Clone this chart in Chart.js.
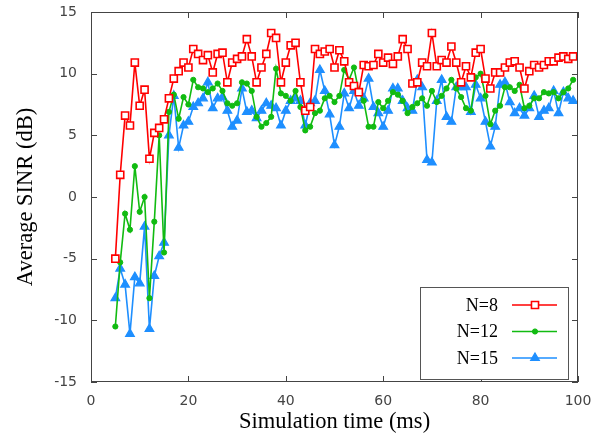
<!DOCTYPE html>
<html>
<head>
<meta charset="utf-8">
<script src="https://cdn.jsdelivr.net/npm/chart.js@4.4.1/dist/chart.umd.min.js"></script>
<style>
  html, body { margin: 0; padding: 0; background: #fff; }
</style>
</head>
<body>
<canvas id="sinrChart" width="609" height="439"></canvas>
<script>
// simulation time (ms), one sample per ms
const timeMs = [5, 6, 7, 8, 9, 10, 11, 12, 13, 14, 15, 16, 17, 18, 19, 20, 21, 22, 23, 24,
  25, 26, 27, 28, 29, 30, 31, 32, 33, 34, 35, 36, 37, 38, 39, 40, 41, 42, 43, 44,
  45, 46, 47, 48, 49, 50, 51, 52, 53, 54, 55, 56, 57, 58, 59, 60, 61, 62, 63, 64,
  65, 66, 67, 68, 69, 70, 71, 72, 73, 74, 75, 76, 77, 78, 79, 80, 81, 82, 83, 84,
  85, 86, 87, 88, 89, 90, 91, 92, 93, 94, 95, 96, 97, 98, 99];

const sinrN8 = [-5.0, 1.8, 6.6, 5.8, 10.9, 7.4, 8.7, 3.1, 5.2, 5.6, 6.3, 8.0, 9.6, 10.2, 10.9, 10.5, 12.0, 11.6, 11.1, 11.5,
  10.1, 11.6, 11.7, 9.3, 10.9, 11.2, 11.4, 12.8, 11.4, 9.3, 10.5, 11.6, 13.3, 12.9, 9.3, 10.9, 12.3, 12.5, 9.3, 7.0,
  7.3, 12.0, 11.6, 11.8, 12.0, 10.5, 11.9, 11.0, 9.3, 9.0, 8.5, 10.7, 10.6, 10.7, 11.6, 10.9, 11.3, 10.8, 11.4, 12.8,
  12.0, 9.2, 9.3, 10.9, 10.6, 13.3, 10.6, 11.1, 10.9, 12.2, 10.9, 9.3, 10.6, 9.7, 11.7, 12.0, 9.6, 8.8, 10.1, 10.1,
  10.5, 10.9, 11.0, 10.5, 8.8, 10.2, 10.7, 10.5, 10.7, 11.0, 11.0, 11.3, 11.4, 11.2, 11.4];

const sinrN12 = [-10.5, -5.3, -1.35, -2.65, 2.5, -1.2, 0.0, -8.2, -2.0, 5.0, -4.5, 6.9, 8.3, 6.35, 8.1, 7.5, 9.5, 8.9, 8.8, 8.5,
  8.8, 9.2, 8.6, 7.6, 7.4, 7.6, 9.3, 9.2, 8.6, 6.5, 5.7, 6.0, 6.5, 10.4, 8.4, 8.2, 7.8, 8.6, 7.3, 5.4,
  5.7, 6.8, 7.0, 8.0, 8.2, 7.7, 8.2, 10.3, 9.5, 10.5, 8.5, 7.8, 5.7, 5.7, 7.7, 7.2, 7.8, 8.5, 8.3, 7.8,
  6.8, 7.3, 7.6, 8.0, 7.4, 8.6, 7.7, 8.2, 8.8, 9.5, 8.8, 8.1, 7.2, 7.0, 9.7, 10.0, 8.2, 5.9, 7.0, 7.4,
  8.9, 8.9, 8.6, 9.1, 7.2, 7.4, 8.0, 8.0, 8.5, 8.4, 8.5, 8.0, 8.5, 8.8, 9.5];

const sinrN15 = [-8.2, -5.8, -7.1, -11.1, -6.5, -7.0, -2.4, -10.7, -6.4, -4.8, -3.7, 5.0, 8.2, 4.0, 5.8, 6.1, 7.3, 7.6, 8.0, 9.3,
  7.2, 8.0, 8.1, 7.0, 5.7, 6.2, 8.8, 6.9, 7.0, 6.4, 7.0, 7.6, 7.4, 7.2, 5.8, 7.0, 7.8, 8.0, 7.8, 5.8,
  7.6, 7.8, 10.3, 8.6, 6.7, 4.2, 5.7, 8.4, 7.2, 8.6, 7.4, 8.0, 9.6, 7.3, 6.8, 5.7, 7.0, 8.8, 8.8, 7.8,
  7.2, 7.0, 9.5, 8.9, 3.0, 2.8, 7.8, 9.5, 6.5, 6.1, 8.9, 8.9, 8.9, 6.9, 9.1, 8.0, 6.1, 4.1, 5.7, 9.1,
  9.3, 7.7, 6.8, 7.2, 6.6, 7.2, 8.2, 6.5, 7.0, 7.2, 8.6, 6.8, 8.5, 8.0, 7.8];

const seriesLabels = ['N=8', 'N=12', 'N=15'];
const xTicks = [0, 20, 40, 60, 80, 100];
const xTickLabels = ['0', '20', '40', '60', '80', '100'];
const yTicks = [-15, -10, -5, 0, 5, 10, 15];
const yTickLabels = ['-15', '-10', '-5', '0', '5', '10', '15'];

function toPoints(values) {
    return values.map((v, i) => ({ x: timeMs[i], y: v }));
}

function drawMarker(ctx, ds, x, y) {
    const opts = {
        pointStyle: ds.pointStyle,
        radius: ds.pointRadius,
        rotation: 0,
        borderWidth: ds.pointBorderWidth
    };
    ctx.save();
    ctx.fillStyle = ds.pointBackgroundColor;
    ctx.strokeStyle = ds.borderColor;
    ctx.lineWidth = ds.pointBorderWidth;
    Chart.helpers.drawPoint(ctx, opts, x, y);
    ctx.restore();
}

// gnuplot style box: full frame, inward ticks on every side, boxed key
const frameAndKey = {
    id: 'frameAndKey',
    afterDatasetsDraw(chart) {
        const { ctx, chartArea: a, scales: { x, y } } = chart;
        ctx.save();
        ctx.strokeStyle = '#444';
        ctx.lineWidth = 1;
        ctx.strokeRect(a.left + 0.5, a.top + 0.5, a.right - a.left - 1, a.bottom - a.top - 1);
        ctx.beginPath();
        xTicks.forEach(v => {
            const px = Math.round(x.getPixelForValue(v)) + 0.5;
            ctx.moveTo(px, a.bottom); ctx.lineTo(px, a.bottom - 6);
            ctx.moveTo(px, a.top); ctx.lineTo(px, a.top + 6);
        });
        yTicks.forEach(v => {
            const py = Math.round(y.getPixelForValue(v)) + 0.5;
            ctx.moveTo(a.left, py); ctx.lineTo(a.left + 6, py);
            ctx.moveTo(a.right, py); ctx.lineTo(a.right - 6, py);
        });
        ctx.stroke();

        // key box
        const box = { left: 420, top: 287, width: 148, height: 92 };
        ctx.fillStyle = '#fff';
        ctx.fillRect(box.left, box.top, box.width, box.height);
        ctx.strokeStyle = '#555';
        ctx.strokeRect(box.left + 0.5, box.top + 0.5, box.width, box.height);
        ctx.font = '18px "Liberation Serif", serif';
        ctx.textAlign = 'right';
        ctx.textBaseline = 'middle';
        chart.data.datasets.forEach((ds, i) => {
            const rowY = box.top + 18 + i * 26.5;
            ctx.fillStyle = '#000';
            ctx.fillText(ds.label, 498, rowY + 1);
            ctx.strokeStyle = ds.borderColor;
            ctx.lineWidth = ds.borderWidth;
            ctx.beginPath();
            ctx.moveTo(512, rowY);
            ctx.lineTo(557, rowY);
            ctx.stroke();
            drawMarker(ctx, ds, 535, rowY);
        });
        ctx.restore();
    }
};

const tickFont = { family: '"DejaVu Sans", sans-serif', size: 14 };
const titleFont = { family: '"Liberation Serif", serif', size: 22.5 };

new Chart(document.getElementById('sinrChart'), {
    type: 'line',
    data: {
        datasets: [{
            label: seriesLabels[0],
            data: toPoints(sinrN8),
            borderColor: '#ff0000',
            borderWidth: 1.6,
            pointStyle: 'rect',
            pointRadius: 5,
            pointBorderWidth: 1.6,
            pointBackgroundColor: '#ffffff',
            tension: 0
        }, {
            label: seriesLabels[1],
            data: toPoints(sinrN12),
            borderColor: '#11bb11',
            borderWidth: 1.6,
            pointStyle: 'circle',
            pointRadius: 2.6,
            pointBorderWidth: 1,
            pointBackgroundColor: '#11bb11',
            tension: 0
        }, {
            label: seriesLabels[2],
            data: toPoints(sinrN15),
            borderColor: '#1e8fff',
            borderWidth: 1.6,
            pointStyle: 'triangle',
            pointRadius: 5,
            pointBorderWidth: 1.2,
            pointBackgroundColor: '#1e8fff',
            tension: 0
        }]
    },
    options: {
        responsive: false,
        animation: false,
        layout: { padding: { top: 12, right: 31, left: 0, bottom: 0 } },
        plugins: { legend: { display: false }, tooltip: { enabled: false } },
        scales: {
            x: {
                type: 'linear',
                min: 0,
                max: 100,
                afterFit: s => { s.height = 57; s.paddingLeft = 0; s.paddingRight = 0; },
                afterBuildTicks: s => { s.ticks = xTicks.map(v => ({ value: v })); },
                grid: { display: false, drawTicks: false },
                border: { display: false },
                ticks: {
                    padding: 11,
                    maxRotation: 0,
                    autoSkip: false,
                    color: '#444',
                    font: tickFont,
                    callback: v => xTickLabels[xTicks.indexOf(v)]
                },
                title: {
                    display: true,
                    text: 'Simulation time (ms)',
                    color: '#000',
                    font: titleFont,
                    padding: { top: 0, bottom: 3 }
                }
            },
            y: {
                min: -15,
                max: 15,
                afterFit: s => { s.width = 91; s.paddingTop = 0; s.paddingBottom = 0; },
                afterBuildTicks: s => { s.ticks = yTicks.map(v => ({ value: v })); },
                grid: { display: false, drawTicks: false },
                border: { display: false },
                ticks: {
                    padding: 14,
                    autoSkip: false,
                    color: '#444',
                    font: tickFont,
                    callback: v => yTickLabels[yTicks.indexOf(v)]
                },
                title: {
                    display: true,
                    text: 'Average SINR (dB)',
                    color: '#000',
                    font: titleFont,
                    padding: { top: 13, bottom: 0 }
                }
            }
        }
    },
    plugins: [frameAndKey]
});
</script>
</body>
</html>
